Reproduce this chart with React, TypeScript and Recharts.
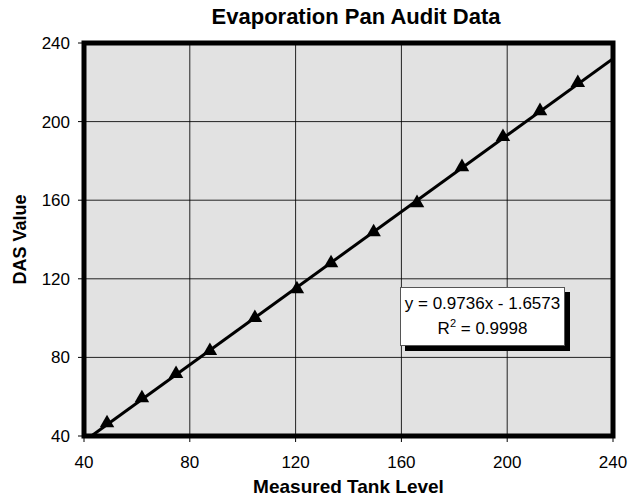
import { ScatterChart, Scatter, XAxis, YAxis, CartesianGrid, ReferenceArea, Label, Symbols } from 'recharts';

const measuredLevel = [48.7, 61.9, 74.8, 87.6, 104.6, 120.5, 133.4, 149.5, 165.9, 182.9, 198.4, 212.4, 226.7];
const dasValue = [46.6, 59.3, 71.6, 83.3, 100.1, 114.8, 128.0, 143.8, 158.6, 176.9, 192.2, 205.4, 219.7];
const axisTicks = [40, 80, 120, 160, 200, 240];

// linear trendline as reported on the chart
const trendSlope = 0.9736;
const trendIntercept = -1.6573;
const trendR2 = '0.9998';

const font = '"Liberation Sans", Arial, sans-serif';

const points = measuredLevel.map((x, i) => ({ x, y: dasValue[i] }));
const trendStartX = (axisTicks[0] - trendIntercept) / trendSlope;
const trendEndX = axisTicks[axisTicks.length - 1];
const trend = [trendStartX, trendEndX].map((x) => ({ x, y: trendSlope * x + trendIntercept }));

const tickStyle = { fill: '#000', fontSize: 17, fontFamily: font };

const Marker = (props: any) => <Symbols cx={props.cx} cy={props.cy} type="triangle" size={14.5} sizeType="diameter" fill="#000" />;

const App = () => {
  return (
    <div style={{ position: 'absolute', left: 0, top: 0, width: 639, height: 497, background: '#fff', fontFamily: font }}>
      <div
        style={{
          position: 'absolute',
          left: 156,
          top: 5,
          width: 400,
          textAlign: 'center',
          fontSize: 22,
          fontWeight: 'bold',
          lineHeight: '24px',
        }}
      >
        Evaporation Pan Audit Data
      </div>
      <ScatterChart width={639} height={497} margin={{ top: 43, right: 26, bottom: 0, left: 0 }}>
        <CartesianGrid fill="#e2e2e2" stroke="#000" strokeOpacity={0.85} horizontalValues={axisTicks} verticalValues={axisTicks} />
        <XAxis
          type="number"
          dataKey="x"
          domain={[40, 240]}
          ticks={axisTicks}
          allowDataOverflow
          axisLine={false}
          tickLine={{ stroke: '#000' }}
          tickSize={6}
          tickMargin={14}
          tick={tickStyle}
          height={61}
        >
          <Label
            value="Measured Tank Level"
            position="insideBottom"
            offset={4}
            style={{ fontSize: 19, fontWeight: 'bold', fill: '#000', fontFamily: font }}
          />
        </XAxis>
        <YAxis
          type="number"
          dataKey="y"
          domain={[40, 240]}
          ticks={axisTicks}
          allowDataOverflow
          axisLine={false}
          tickLine={{ stroke: '#000' }}
          tickSize={6}
          tickMargin={8}
          tick={tickStyle}
          width={84}
        >
          <Label
            value="DAS Value"
            angle={-90}
            position="insideLeft"
            offset={20}
            style={{ fontSize: 18, fontWeight: 'bold', fill: '#000', fontFamily: font, textAnchor: 'middle' }}
          />
        </YAxis>
        <Scatter
          data={trend}
          line={{ stroke: '#000', strokeWidth: 3 }}
          shape={() => <g />}
          isAnimationActive={false}
        />
        <Scatter data={points} shape={Marker} fill="#000" isAnimationActive={false} />
        <ReferenceArea x1={40} x2={240} y1={40} y2={240} fill="none" stroke="#000" strokeWidth={5} fillOpacity={0} />
      </ScatterChart>
      <div
        style={{
          position: 'absolute',
          left: 400,
          top: 287,
          width: 163,
          height: 54,
          background: '#fff',
          border: '1px solid #555',
          boxShadow: '5px 5px 0 #000',
          textAlign: 'center',
          fontSize: 17,
          lineHeight: '25px',
          paddingTop: 3,
          boxSizing: 'content-box',
        }}
      >
        <div>y = {trendSlope}x - {Math.abs(trendIntercept)}</div>
        <div>
          R<sup style={{ fontSize: 11, lineHeight: 0 }}>2</sup> = {trendR2}
        </div>
      </div>
    </div>
  );
};

export default App;
